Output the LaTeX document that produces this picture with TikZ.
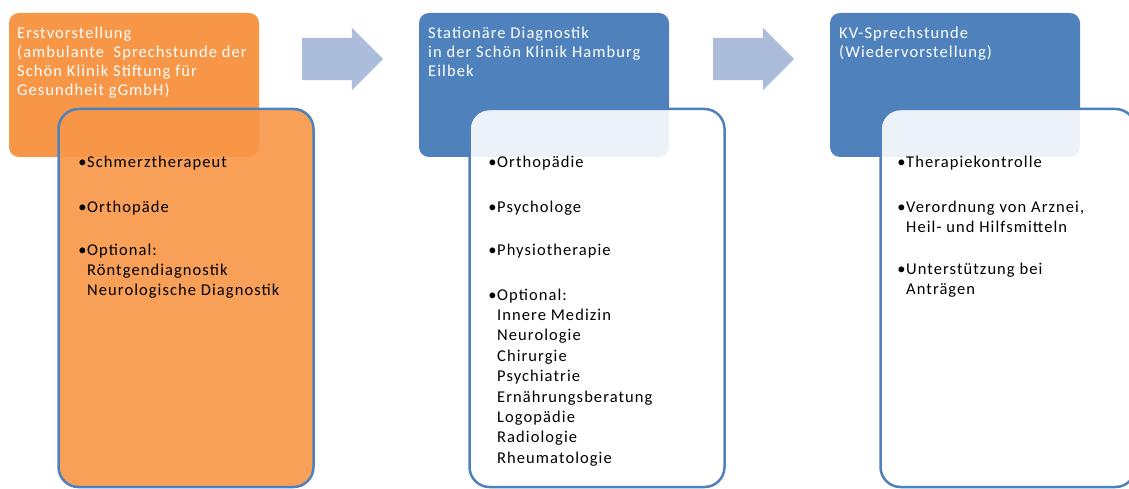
\documentclass[tikz,border=0pt]{standalone}
\usepackage{fontspec}
\setmainfont{Carlito}
\usepackage{tikz}
\usetikzlibrary{shapes,arrows,positioning}
\newfontfamily\headfamily[LetterSpace=6.5]{Carlito}
\newcommand{\headfont}{\headfamily\fontsize{16.5}{19}\selectfont}
\newcommand{\listfont}{\headfamily\fontsize{16.5}{20.4}\selectfont}
\newcommand{\bul}{\strut\llap{\textbullet\kern0.5pt}}
\definecolor{orange}{RGB}{247, 150, 70}
\definecolor{blue}{RGB}{79, 129, 189}
\definecolor{lightblue}{RGB}{172, 189, 219}
\tikzstyle{head} = [rectangle, rounded corners=10pt, minimum width=250pt, minimum height=144pt, inner sep=0pt, outer sep=0pt, anchor=north west]
\tikzstyle{detail} = [rectangle, rounded corners=20pt, draw=blue, line width=2.5pt, fill opacity=0.9, minimum width=255pt, minimum height=378pt, inner sep=0pt, outer sep=0pt, anchor=north west]
\tikzstyle{title} = [text=white, font=\headfont, align=left, inner sep=0pt, anchor=north west]
\tikzstyle{item} = [text=black, font=\listfont, align=left, inner sep=0pt, anchor=north west, yshift=14.3pt]
\tikzstyle{bigarrow} = [single arrow, draw=none, fill=lightblue, minimum height=81pt, inner xsep=0pt, inner ysep=21pt, single arrow head extend=10pt, single arrow tip angle=90]

\begin{document}
\begin{tikzpicture}[x=1pt, y=-1pt]
\useasboundingbox (0,0) rectangle (1129,489);

% Erstvorstellung =============================
\node[head, fill=orange] (head1) at (9,13) {};
\node[title, below right=14pt and 8pt of head1.north west] (title1) {Erstvorstellung\\(ambulante\ \ Sprechstunde der\\Schön Klinik Stiftung für\\Gesundheit gGmbH)};
\node[detail, fill=orange, below right=96pt and 49.5pt of head1.north west] (detail1) {};

\node[item] (schmerz) at (87,167) {\bul Schmerztherapeut};
\node[item] (orthopaede) at (87,212) {\bul Orthopäde};
\node[item] (optional1) at (87,255) {\bul Optional:\\Röntgendiagnostik\\Neurologische Diagnostik};

% Stationaere Diagnostik =============================
\node[head, fill=blue, right=160pt of head1] (head2) {};
\node[title, below right=14pt and 9pt of head2.north west] (title2) {Stationäre Diagnostik\\in der Schön Klinik Hamburg\\Eilbek};
\node[detail, fill=white, below right=96pt and 50.5pt of head2.north west] (detail2) {};

\node[item] (orthopaedie) at (497,167) {\bul Orthopädie};
\node[item] (psychologe) at (497,212) {\bul Psychologe};
\node[item] (physio) at (497,255) {\bul Physiotherapie};
\node[item] (optional2) at (497,300) {\bul Optional:\\Innere Medizin\\Neurologie\\Chirurgie\\Psychiatrie\\Ernährungsberatung\\Logopädie\\Radiologie\\Rheumatologie};

% KV-Sprechstunde =============================
\node[head, fill=blue, right=161pt of head2] (head3) {};
\node[title, below right=14pt and 9pt of head3.north west] (title3) {KV-Sprechstunde\\(Wiedervorstellung)};
\node[detail, fill=white, below right=96pt and 50.5pt of head3.north west] (detail3) {};

\node[item] (kontrolle) at (906,167) {\bul Therapiekontrolle};
\node[item] (verordnung) at (906,212) {\bul Verordnung von Arznei,\\Heil- und Hilfsmitteln};
\node[item] (antraege) at (906,274) {\bul Unterstützung bei\\Anträgen};

% arrows
\node[bigarrow] (arrow1) at (332,59) {};
\node[bigarrow] (arrow2) at (743,59) {};

\end{tikzpicture}
\end{document}
